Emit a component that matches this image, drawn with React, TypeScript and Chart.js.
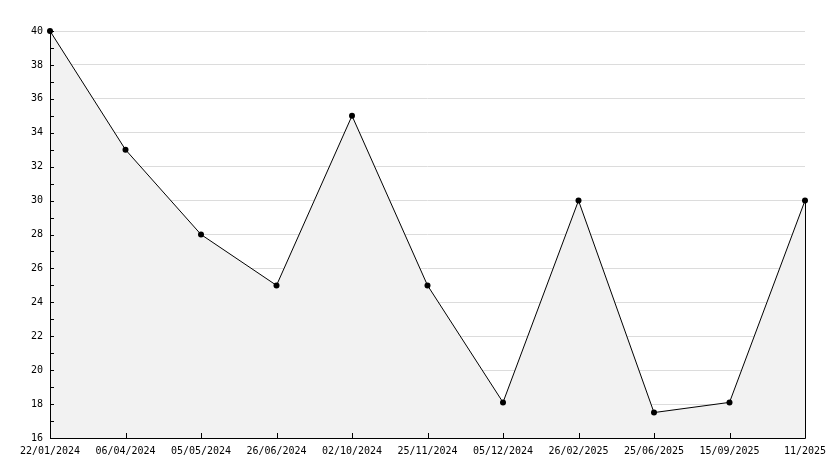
import React, { useEffect, useRef } from "react";
import { Chart, registerables } from "chart.js";

Chart.register(...registerables);

const categories = [
  "22/01/2024",
  "06/04/2024",
  "05/05/2024",
  "26/06/2024",
  "02/10/2024",
  "25/11/2024",
  "05/12/2024",
  "26/02/2025",
  "25/06/2025",
  "15/09/2025",
  "11/2025",
];
const values = [40, 33, 28, 25, 35, 25, 18.1, 30, 17.5, 18.1, 30];
const yMin = 16;
const yMax = 40;
const yStep = 2;

const FONT = "'DejaVu Sans Mono', monospace";

const axisPlugin = {
  id: "axisPlugin",
  afterDatasetsDraw(chart: any) {
    const { ctx, chartArea, scales } = chart;
    const x = scales.x;
    const y = scales.y;
    ctx.save();
    ctx.strokeStyle = "#000";
    ctx.lineWidth = 1;
    ctx.beginPath();
    // minor + major ticks on y (inside)
    for (let v = yMin; v <= yMax; v += 1) {
      const py = Math.round(y.getPixelForValue(v)) + 0.5;
      ctx.moveTo(chartArea.left, py);
      ctx.lineTo(chartArea.left + 4, py);
    }
    // x ticks (inside, upward)
    for (let i = 0; i < categories.length; i++) {
      const px = Math.round(x.getPixelForValue(i)) + 0.5;
      ctx.moveTo(px, chartArea.bottom);
      ctx.lineTo(px, chartArea.bottom - 5);
    }
    // axis lines
    const lx = Math.round(chartArea.left) + 0.5;
    const by = Math.round(chartArea.bottom) + 0.5;
    ctx.moveTo(lx, chartArea.top);
    ctx.lineTo(lx, by);
    ctx.lineTo(Math.round(chartArea.right) + 0.5, by);
    // right edge of filled area
    const lastX = Math.round(x.getPixelForValue(categories.length - 1)) + 0.5;
    const lastY = y.getPixelForValue(values[values.length - 1]);
    ctx.moveTo(lastX, lastY);
    ctx.lineTo(lastX, by);
    ctx.stroke();
    ctx.restore();
  },
};

export default function App() {
  const canvasRef = useRef<HTMLCanvasElement | null>(null);

  useEffect(() => {
    if (!canvasRef.current) return;
    const chart = new Chart(canvasRef.current, {
      type: "line",
      data: {
        labels: categories,
        datasets: [
          {
            data: values,
            borderColor: "#000",
            borderWidth: 1,
            backgroundColor: "#f2f2f2",
            fill: "start",
            tension: 0,
            pointRadius: 3,
            pointHoverRadius: 3,
            pointBackgroundColor: "#000",
            pointBorderColor: "#000",
            pointBorderWidth: 0,
            clip: false as any,
          },
        ],
      },
      options: {
        animation: false,
        responsive: false,
        maintainAspectRatio: false,
        layout: { padding: { top: 31, right: 29, left: 0, bottom: 0 } },
        plugins: {
          legend: { display: false },
          tooltip: { enabled: false },
        },
        events: [],
        scales: {
          x: {
            type: "category",
            offset: false,
            grid: { display: false, drawTicks: false },
            border: { display: false },
            ticks: {
              autoSkip: false,
              maxRotation: 0,
              minRotation: 0,
              padding: 7,
              color: "#000",
              font: { family: FONT, size: 10 },
            },
            afterFit: (scale: any) => {
              scale.height = 30;
            },
          },
          y: {
            min: yMin,
            max: yMax,
            ticks: {
              stepSize: yStep,
              padding: 7,
              color: "#000",
              font: { family: FONT, size: 10 },
            },
            grid: {
              color: "#dcdcdc",
              lineWidth: 1,
              drawTicks: false,
            },
            border: { display: false },
            afterFit: (scale: any) => {
              scale.width = 50;
            },
          },
        },
      },
      plugins: [axisPlugin],
    });
    return () => chart.destroy();
  }, []);

  return (
    <div
      style={{
        position: "fixed",
        left: 0,
        top: 0,
        width: 834,
        height: 468,
        background: "#fff",
      }}
    >
      <canvas ref={canvasRef} width={834} height={468} />
    </div>
  );
}
